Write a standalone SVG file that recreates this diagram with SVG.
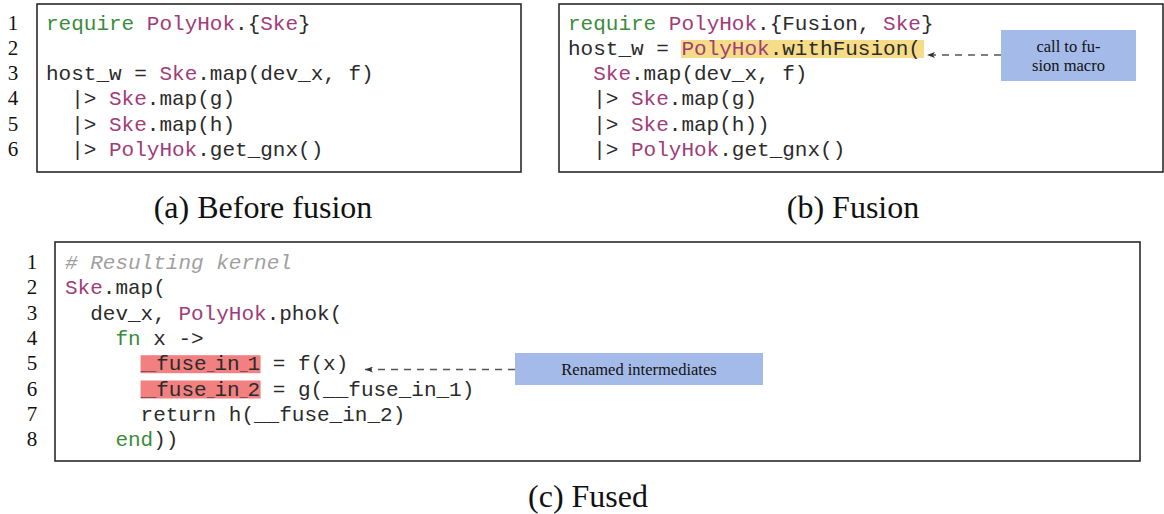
<svg xmlns="http://www.w3.org/2000/svg" width="1164" height="514" viewBox="0 0 1164 514">
<style>
.frame{fill:#ffffff;stroke:#2a2a2a;stroke-width:1.6}
.ln{font-family:"Liberation Serif","Times New Roman",serif;font-size:21px;fill:#111;text-anchor:middle}
.code{font-family:"Liberation Mono","Courier New",monospace;font-size:21px;fill:#2b2b2b}
.kw{fill:#3b8c3b}
.mod{fill:#a03c78}
.cm{fill:#a0a0a0;font-style:italic}
.us{font-size:13px}
.cap{font-family:"Liberation Serif","Times New Roman",serif;font-size:32px;fill:#111;text-anchor:middle}
.note{fill:#a4bbe9}
.notetxt{font-family:"Liberation Serif","Times New Roman",serif;font-size:16.5px;fill:#111;text-anchor:middle}
.conn{fill:none;stroke:#555;stroke-width:1.3;stroke-dasharray:7 6}
</style>
<defs>
<marker id="ah" viewBox="0 0 8 6" refX="8" refY="3" markerWidth="8" markerHeight="6" markerUnits="userSpaceOnUse" orient="auto">
<path d="M0,0 L8,3 L0,6 L2,3 Z" fill="#333"/>
</marker>
</defs>

<g id="panel-a">
<rect class="frame" x="37" y="4" width="484" height="168"/>
<text class="ln" x="13" y="29.5">1</text>
<text class="ln" x="13" y="54.8">2</text>
<text class="ln" x="13" y="80.1">3</text>
<text class="ln" x="13" y="105.4">4</text>
<text class="ln" x="13" y="130.7">5</text>
<text class="ln" x="13" y="156">6</text>
<text class="code" x="46" y="29.5"><tspan class="kw">require</tspan> <tspan class="mod">PolyHok</tspan>.{<tspan class="mod">Ske</tspan>}</text>
<text class="code" x="46" y="80.1">host_w = <tspan class="mod">Ske</tspan>.map(dev_x, f)</text>
<text class="code" x="71.2" y="105.4">|&gt; <tspan class="mod">Ske</tspan>.map(g)</text>
<text class="code" x="71.2" y="130.7">|&gt; <tspan class="mod">Ske</tspan>.map(h)</text>
<text class="code" x="71.2" y="156">|&gt; <tspan class="mod">PolyHok</tspan>.get_gnx()</text>
</g>

<g id="panel-b">
<rect class="frame" x="559" y="4" width="604" height="168"/>
<rect x="681" y="40" width="243" height="18" fill="#f6dc86"/>
<text class="code" x="568" y="29.5"><tspan class="kw">require</tspan> <tspan class="mod">PolyHok</tspan>.{Fusion, <tspan class="mod">Ske</tspan>}</text>
<text class="code" x="568" y="54.8">host_w = <tspan class="mod">PolyHok</tspan>.withFusion(</text>
<text class="code" x="593.2" y="80.1"><tspan class="mod">Ske</tspan>.map(dev_x, f)</text>
<text class="code" x="593.2" y="105.4">|&gt; <tspan class="mod">Ske</tspan>.map(g)</text>
<text class="code" x="593.2" y="130.7">|&gt; <tspan class="mod">Ske</tspan>.map(h))</text>
<text class="code" x="593.2" y="156">|&gt; <tspan class="mod">PolyHok</tspan>.get_gnx()</text>
</g>

<g id="note-fusion">
<rect class="note" x="1001" y="30" width="135" height="51"/>
<text class="notetxt" x="1068.5" y="51.5">call to fu-</text>
<text class="notetxt" x="1068.5" y="71">sion macro</text>
</g>

<g id="panel-c">
<rect class="frame" x="55" y="242" width="1085" height="219"/>
<text class="ln" x="32" y="269">1</text>
<text class="ln" x="32" y="294.3">2</text>
<text class="ln" x="32" y="319.6">3</text>
<text class="ln" x="32" y="344.9">4</text>
<text class="ln" x="32" y="370.2">5</text>
<text class="ln" x="32" y="395.5">6</text>
<text class="ln" x="32" y="420.8">7</text>
<text class="ln" x="32" y="446.1">8</text>
<rect x="140.6" y="355.2" width="120" height="18" fill="#f28080"/>
<rect x="140.6" y="380.5" width="120" height="18" fill="#f28080"/>
<text class="code" x="65" y="269"><tspan class="cm"># Resulting kernel</tspan></text>
<text class="code" x="65" y="294.3"><tspan class="mod">Ske</tspan>.map(</text>
<text class="code" x="90.2" y="319.6">dev_x, <tspan class="mod">PolyHok</tspan>.phok(</text>
<text class="code" x="115.4" y="344.9"><tspan class="kw">fn</tspan> x -&gt;</text>
<text class="code" x="140.6" y="370.2"><tspan class="us">__</tspan>fuse<tspan class="us">_</tspan>in<tspan class="us">_</tspan>1 = f(x)</text>
<text class="code" x="140.6" y="395.5"><tspan class="us">__</tspan>fuse<tspan class="us">_</tspan>in<tspan class="us">_</tspan>2 = g(__fuse_in_1)</text>
<text class="code" x="140.6" y="420.8">return h(__fuse_in_2)</text>
<text class="code" x="115.4" y="446.1"><tspan class="kw">end</tspan>))</text>
</g>

<g id="note-renamed">
<rect class="note" x="515" y="353" width="248" height="32"/>
<text class="notetxt" x="639" y="375">Renamed intermediates</text>
</g>

<g id="connectors">
<line class="conn" x1="1001" y1="55" x2="927" y2="55" marker-end="url(#ah)"/>
<line class="conn" x1="515" y1="369.5" x2="365" y2="369.5" marker-end="url(#ah)"/>
</g>

<g id="captions">
<text class="cap" x="263" y="218">(a) Before fusion</text>
<text class="cap" x="853" y="218">(b) Fusion</text>
<text class="cap" x="588" y="507">(c) Fused</text>
</g>
</svg>
